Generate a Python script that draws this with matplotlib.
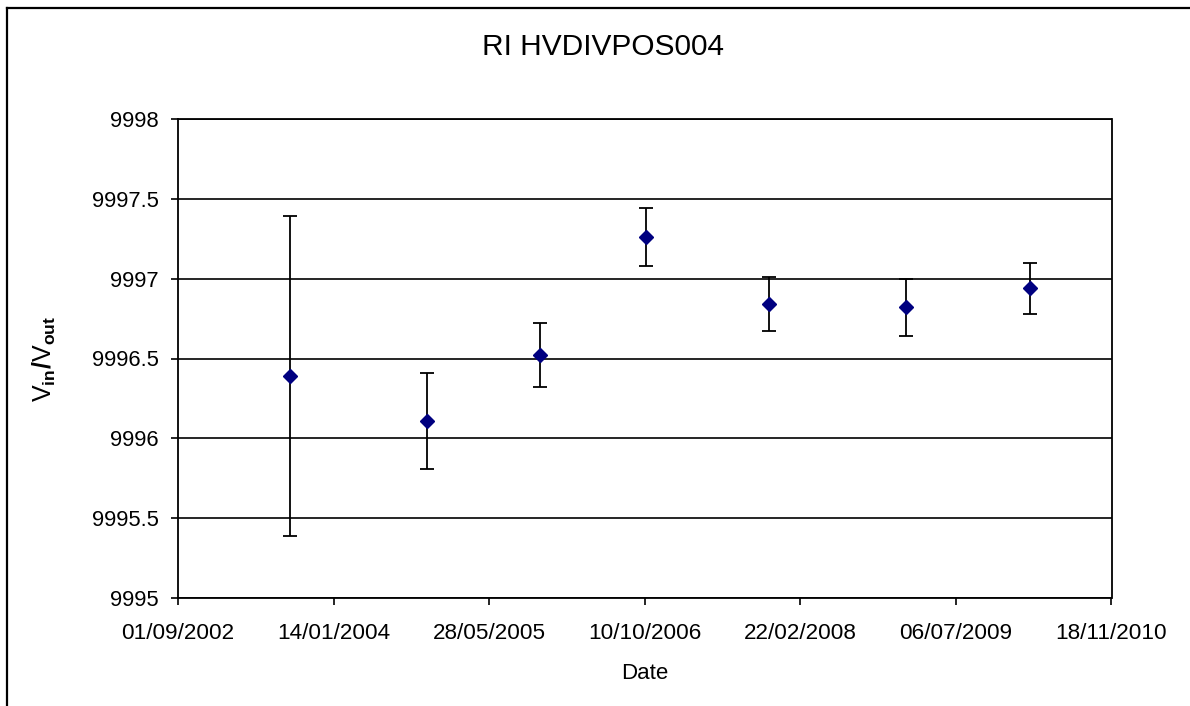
import matplotlib
matplotlib.use("Agg")
import matplotlib.pyplot as plt
from matplotlib.lines import Line2D
from datetime import datetime

# ---- data ----
dates = ["2003-08-27", "2004-11-08", "2005-11-07", "2006-10-14",
         "2007-11-14", "2009-01-27", "2010-02-28"]
ratio = [9996.39, 9996.11, 9996.52, 9997.26, 9996.84, 9996.82, 9996.94]
uncert = [1.00, 0.30, 0.20, 0.18, 0.17, 0.18, 0.16]
x_tick_labels = ["01/09/2002", "14/01/2004", "28/05/2005", "10/10/2006",
                 "22/02/2008", "06/07/2009", "18/11/2010"]
y_ticks = [9995, 9995.5, 9996, 9996.5, 9997, 9997.5, 9998]
title = "RI HVDIVPOS004"

plt.rcParams['font.family'] = ['Liberation Sans', 'DejaVu Sans']
plt.rcParams['mathtext.fontset'] = 'custom'
plt.rcParams['mathtext.rm'] = 'Liberation Sans'
plt.rcParams['mathtext.it'] = 'Liberation Sans:italic'
plt.rcParams['mathtext.bf'] = 'Liberation Sans:bold'

W, H = 1190, 706
fig = plt.figure(figsize=(W / 100, H / 100), dpi=100)
ax = fig.add_axes([178 / W, 1 - 598 / H, (1111.5 - 178) / W, (598 - 119) / H])

xd = [datetime.strptime(d, "%Y-%m-%d") for d in dates]
xt = [datetime.strptime(t, "%d/%m/%Y") for t in x_tick_labels]

ax.errorbar(xd, ratio, yerr=uncert, fmt='D', color='#000080', ms=6.8,
            ecolor='black', elinewidth=1.3, capsize=4.8, capthick=1.3,
            zorder=3)

ax.set_xlim(xt[0], xt[-1])
ax.set_ylim(y_ticks[0], y_ticks[-1])
ax.set_xticks(xt)
ax.set_xticklabels(x_tick_labels)
ax.set_yticks(y_ticks)
ax.set_yticklabels(["%g" % v for v in y_ticks])

ax.yaxis.grid(True, color='black', linewidth=1.2)
ax.set_axisbelow(True)
for s in ax.spines.values():
    s.set_color('black')
    s.set_linewidth(1.3)

ax.tick_params(axis='both', direction='out', length=5, width=1.2,
               colors='black')
ax.tick_params(axis='y', pad=9, labelsize=15.8)
ax.tick_params(axis='x', pad=13, labelsize=16.2)

ax.set_xlabel("Date", fontsize=16, labelpad=14)
ax.set_ylabel(r'$\mathrm{V}_{\mathbf{in}}\mathbf{/}\mathrm{V}_{\mathbf{out}}$',
              fontsize=18, labelpad=24)

fig.text(603 / W, 1 - 47 / H, title, ha='center', va='center', fontsize=21.5)

# outer chart border (left and top visible)
fig.add_artist(Line2D([7 / W, 7 / W], [0, 1 - 8 / H], transform=fig.transFigure,
                      color='black', linewidth=1.6))
fig.add_artist(Line2D([7 / W, 1], [1 - 8 / H, 1 - 8 / H], transform=fig.transFigure,
                      color='black', linewidth=1.6))

fig.savefig("out.png", dpi=100)
